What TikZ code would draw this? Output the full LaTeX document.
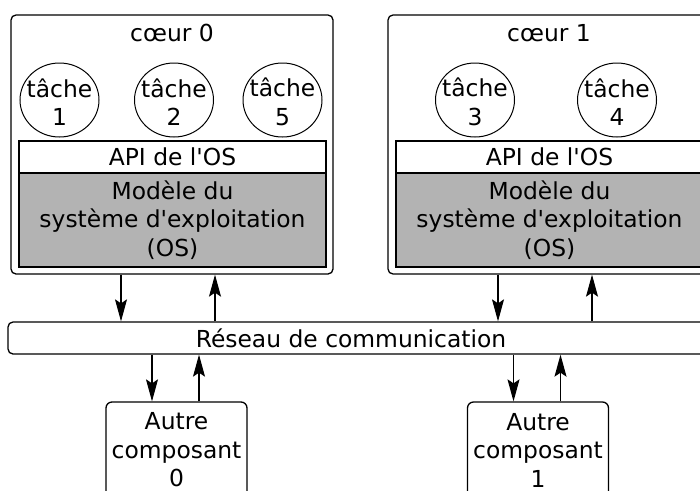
\documentclass[tikz,border=0pt]{standalone}
\usepackage{fontspec}
\setmainfont{DejaVu Sans}[Ligatures=TeXOff]
\usetikzlibrary{arrows.meta}
\definecolor{osgray}{RGB}{179,179,179}
\begin{document}
\begin{tikzpicture}[x=1pt,y=-1pt,
  font=\fontsize{23.4}{28.5}\selectfont,
  frame/.style={draw,line width=1.3pt,rounded corners=5pt,inner sep=0pt},
  layer/.style={draw,line width=1.3pt,inner sep=0pt,align=center,minimum width=307pt},
  tasktext/.style={inner sep=0pt,align=center},
  taskline/.style={line width=1pt},
  arr/.style={line width=1.1pt,-{Stealth[length=22pt,width=12pt,inset=4pt]}}]
\useasboundingbox (0,0) rectangle (700,490);

% processor cores
\node[frame,minimum width=322pt,minimum height=259pt] (core0) at (172,144.5) {};
\node[frame,minimum width=322pt,minimum height=259pt] (core1) at (549,144.5) {};
\node (title0) at (172,33) {cœur 0};
\node (title1) at (549,33) {cœur 1};

% OS layers
\node[layer,minimum height=32pt] (api0) at (172.5,157) {API de l'OS};
\node[layer,fill=osgray,minimum height=94pt] (os0) at (172.5,220) {Modèle du\\système d'exploitation\\(OS)};
\node[layer,minimum height=32pt] (api1) at (549.5,157) {API de l'OS};
\node[layer,fill=osgray,minimum height=94pt] (os1) at (549.5,220) {Modèle du\\système d'exploitation\\(OS)};

% tasks
\foreach \name/\x/\n in {k1/59.5/1, k2/174/2, k5/282.5/5, k3/475/3, k4/617/4}{
  \node[tasktext] (\name) at (\x,102) {tâche\\\n};
  \draw[taskline] (\x,100) ellipse [x radius=39.5pt, y radius=37pt];
}

% communication network
\node[frame,minimum width=704pt,minimum height=32pt] (net) at (360,338) {};
\node (netlabel) at (351,338) {Réseau de communication};

% other components
\node[frame,rounded corners=6pt,minimum width=141pt,minimum height=96pt,align=center] (comp0) at (176.5,450) {Autre\\composant\\0};
\node[frame,rounded corners=6pt,minimum width=141pt,minimum height=96pt,align=center] (comp1) at (538,450) {Autre\\composant\\1};

% links between cores and network
\foreach \c in {core0,core1}{
  \draw[arr] ([xshift=-51pt]\c.south) -- ([xshift=-51pt]\c.south |- net.north);
  \draw[arr] ([xshift=43pt]\c.south |- net.north) -- ([xshift=43pt]\c.south);
}
% links between network and components
\foreach \c in {comp0,comp1}{
  \draw[arr] ([xshift=-24.5pt]\c.north |- net.south) -- ([xshift=-24.5pt]\c.north);
  \draw[arr] ([xshift=22.5pt]\c.north) -- ([xshift=22.5pt]\c.north |- net.south);
}
\end{tikzpicture}
\end{document}
